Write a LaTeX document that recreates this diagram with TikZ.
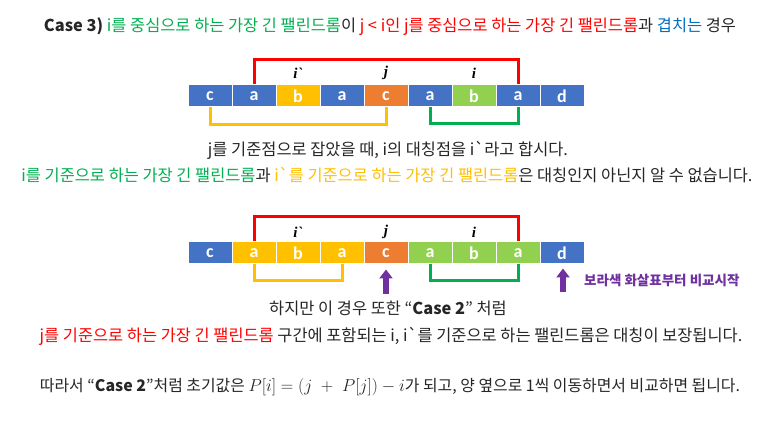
\documentclass[tikz,border=0pt]{standalone}
\usepackage{fontspec}
\newfontfamily\kor{Noto Sans CJK KR}
\newfontfamily\cellfont{Carlito}
\newfontfamily\lblfont{Liberation Serif}
\usetikzlibrary{arrows.meta}
\definecolor{cblue}{HTML}{4472C4}
\definecolor{cyel}{HTML}{FFC000}
\definecolor{corg}{HTML}{ED7D31}
\definecolor{cgrn}{HTML}{92D050}
\definecolor{lred}{HTML}{FF0000}
\definecolor{lgrn}{HTML}{00B050}
\definecolor{lyel}{HTML}{FFC000}
\definecolor{tblue}{HTML}{0070C0}
\definecolor{purp}{HTML}{7030A0}
\definecolor{txt}{HTML}{262626}
\begin{document}
\begin{tikzpicture}[x=1pt,y=-1pt,
  cell/.style={draw=white, line width=1pt, minimum width=44pt, minimum height=22pt, inner sep=0pt, text=white, font=\cellfont\bfseries\fontsize{18}{18}\selectfont},
  lbl/.style={font=\lblfont\bfseries\itshape\fontsize{15}{15}\selectfont, text=black, inner sep=0pt},
  txtline/.style={font=\kor\fontsize{16.4}{16.4}\selectfont, text=txt, inner sep=0pt},
  brk/.style={line width=3pt},
  parrow/.style={purp, line width=5.5pt, -{Triangle[width=13pt,length=9pt]}}
]
\useasboundingbox (0,0) rectangle (773,435);
\fill[white] (0,0) rectangle (773,435);

% title
\node[txtline] (t1) at (390,27) {\textbf{Case 3)} \textcolor{lgrn}{i를 중심으로 하는 가장 긴 팰린드롬}이 \textcolor{lred}{j < i인 j를 중심으로 하는 가장 긴 팰린드롬}과 \textcolor{tblue}{겹치는} 경우};

% row 1
\foreach \l/\c [count=\k from 0] in {c/cblue,a/cblue,b/cyel,a/cblue,c/corg,a/cblue,b/cgrn,a/cblue,d/cblue}
  \node[cell, fill=\c] (r1c\k) at (210+44*\k,96) {\l};
\node[lbl] (r1ip) at (298,73) {i\symbol{96}};
\node[lbl] (r1j) at (386,73) {j};
\node[lbl] (r1i) at (474,73) {i};
\coordinate (r1top) at (254,59.5);
\coordinate (r1ybot) at (210,125);
\coordinate (r1gbot) at (430,124);
\draw[brk, lred] (r1c1.north) -- (r1top) -| (r1c7.north);
\draw[brk, lyel] (r1c0.south) -- (r1ybot) -| (r1c4.south);
\draw[brk, lgrn] (r1c5.south) -- (r1gbot) -| (r1c7.south);

\node[txtline] (t2) at (388,150) {j를 기준점으로 잡았을 때, i의 대칭점을 i\symbol{96}라고 합시다.};
\node[txtline] (t3) at (387,175) {\textcolor{lgrn}{i를 기준으로 하는 가장 긴 팰린드롬}과 \textcolor{lyel}{i\symbol{96}를 기준으로 하는 가장 긴 팰린드롬}은 대칭인지 아닌지 알 수 없습니다.};

% row 2
\foreach \l/\c [count=\k from 0] in {c/cblue,a/cyel,b/cyel,a/cyel,c/corg,a/cgrn,b/cgrn,a/cgrn,d/cblue}
  \node[cell, fill=\c] (r2c\k) at (210+44*\k,253) {\l};
\node[lbl] (r2ip) at (298,232) {i\symbol{96}};
\node[lbl] (r2j) at (386,232) {j};
\node[lbl] (r2i) at (474,232) {i};
\coordinate (r2top) at (254,217);
\coordinate (r2ybot) at (254,281);
\coordinate (r2gbot) at (430,281);
\draw[brk, lred] (r2c1.north) -- (r2top) -| (r2c7.north);
\draw[brk, lyel] (r2c1.south) -- (r2ybot) -| (r2c3.south);
\draw[brk, lgrn] (r2c5.south) -- (r2gbot) -| (r2c7.south);

\coordinate (a1) at (386,294);
\coordinate (a2) at (563,292);
\draw[parrow] (a1) -- ([yshift=-5pt]r2c4.south);
\draw[parrow] (a2) -- ([xshift=1pt,yshift=-4pt]r2c8.south);
\node[anchor=west, inner sep=0pt, text=purp, font=\kor\bfseries\fontsize{13.5}{13.5}\selectfont] (note) at (584,280) {보라색 화살표부터 비교시작};

\node[txtline] (t4) at (388,308) {하지만 이 경우 또한 “\textbf{Case 2}” 처럼};
\node[txtline] (t5) at (391,336) {\textcolor{lred}{j를 기준으로 하는 가장 긴 팰린드롬} 구간에 포함되는 i, i\symbol{96}를 기준으로 하는 팰린드롬은 대칭이 보장됩니다.};
\node[txtline, font=\kor\fontsize{15.9}{15.9}\selectfont] (t6) at (390,387) {따라서 “\textbf{Case 2}”처럼 초기값은 $P[i] = (j\;+\;P[j]) - i$가 되고, 양 옆으로 1씩 이동하면서 비교하면 됩니다.};
\end{tikzpicture}
\end{document}
